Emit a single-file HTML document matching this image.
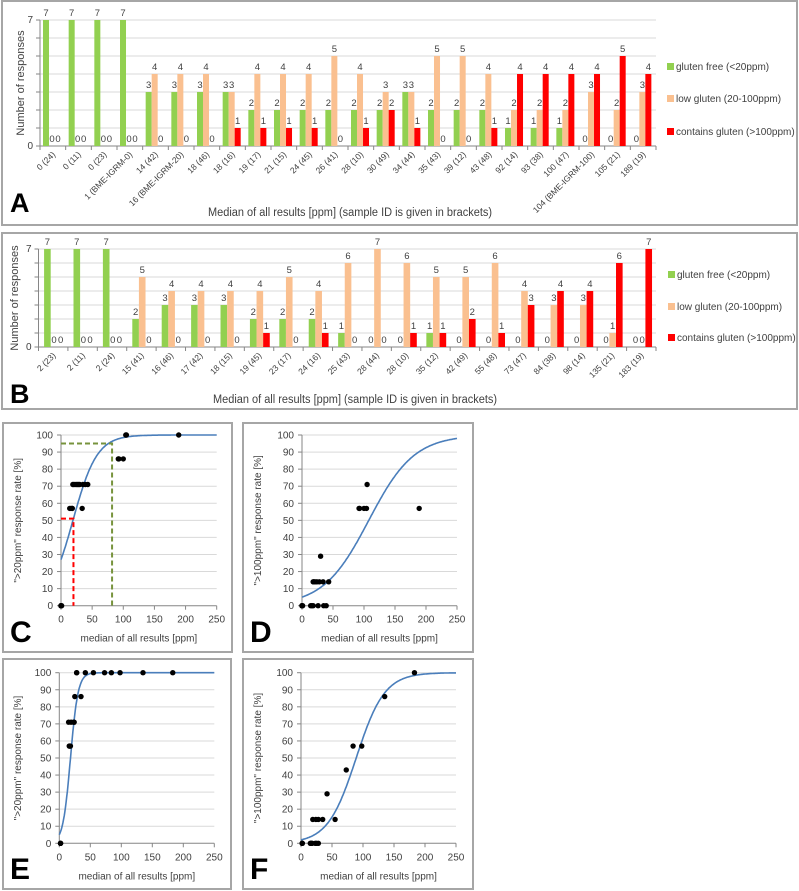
<!DOCTYPE html>
<html><head><meta charset="utf-8">
<style>
html,body{margin:0;padding:0;background:#fff;}
svg{display:block;font-family:"Liberation Sans",Arial,sans-serif;}
</style></head>
<body>
<svg id="fig" width="799" height="891" viewBox="0 0 799 891" xmlns="http://www.w3.org/2000/svg"></svg>
<script>
// ---- Panel A data ----
const catsA = ["0 (24)","0 (11)","0 (23)","1 (BME-IGRM-0)","14 (42)","16 (BME-IGRM-20)","18 (46)","18 (16)","19 (17)","21 (15)","24 (45)","26 (41)","28 (10)","30 (49)","34 (44)","35 (43)","39 (12)","43 (48)","92 (14)","93 (38)","100 (47)","104 (BME-IGRM-100)","105 (21)","189 (19)"];
const greenA = [7,7,7,7,3,3,3,3,2,2,2,2,2,2,3,2,2,2,1,1,1,0,0,0];
const orangeA = [0,0,0,0,4,4,4,3,4,4,4,5,4,3,3,5,5,4,2,2,2,3,2,3];
const redA = [0,0,0,0,0,0,0,1,1,1,1,0,1,2,1,0,0,1,4,4,4,4,5,4];
// ---- Panel B data ----
const catsB = ["2 (23)","2 (11)","2 (24)","15 (41)","16 (46)","17 (42)","18 (15)","19 (45)","23 (17)","24 (16)","25 (43)","28 (44)","28 (10)","35 (12)","42 (49)","55 (48)","73 (47)","84 (38)","98 (14)","135 (21)","183 (19)"];
const greenB = [7,7,7,2,3,3,3,2,2,2,1,0,0,1,0,0,0,0,0,0,0];
const orangeB = [0,0,0,5,4,4,4,4,5,4,6,7,6,5,5,6,4,3,3,1,0];
const redB = [0,0,0,0,0,0,0,1,0,1,0,0,1,1,2,1,3,4,4,6,7];
// ---- Scatter data (C-F) ----
const xC = [0,0,0,1,14,16,18,18,19,21,24,26,28,30,34,35,39,43,92,93,100,104,105,189];
const yC = [0,0,0,0,57,57,57,57,71,71,71,71,71,71,57,71,71,71,86,86,86,100,100,100];
const xD = [0,0,0,1,14,16,18,18,19,21,24,26,28,30,34,35,39,43,92,93,100,104,105,189];
const yD = [0,0,0,0,0,0,0,14,14,14,14,0,14,29,14,0,0,14,57,57,57,57,71,57];
const xE = [2,2,2,15,16,17,18,19,23,24,25,28,28,35,42,55,73,84,98,135,183];
const yE = [0,0,0,71,57,57,57,71,71,71,86,100,100,86,100,100,100,100,100,100,100];
const xF = [2,2,2,15,16,17,18,19,23,24,25,28,28,35,42,55,73,84,98,135,183];
const yF = [0,0,0,0,0,0,0,14,0,14,0,0,14,14,29,14,43,57,57,86,100];
// logistic fit params [intercept, slope]
const fitC = [-0.995,0.0518];
const fitD = [-2.94,0.0273];
const fitE = [-2.94,0.163];
const fitF = [-3.89,0.0437];
const yTicksPct = [0,10,20,30,40,50,60,70,80,90,100];
const xTicksPpm = [0,50,100,150,200,250];

const NS="http://www.w3.org/2000/svg";
const svg=document.getElementById('fig');
function el(tag,attrs,parent,text){const e=document.createElementNS(NS,tag);for(const k in attrs)e.setAttribute(k,attrs[k]);if(text!==undefined)e.textContent=text;(parent||svg).appendChild(e);return e;}

function barPanel(o){
  const g=el('g',{});
  
  
  const box=el('rect',{x:o.box[0],y:o.box[1],width:o.box[2],height:o.box[3],fill:'#fff',stroke:'#a6a6a6','stroke-width':2},g);
  
  
  const n=o.cats.length, w=(o.x1-o.x0)/n, unit=(o.y0-o.y7)/7;
  const ys=v=>o.y0-v*unit;
  for(let v=1;v<=7;v++){const l=el('line',{x1:o.x0,x2:o.x1,y1:ys(v),y2:ys(v),stroke:'#d9d9d9','stroke-width':1},g);
    
    }
  el('line',{x1:o.x0,x2:o.x0,y1:o.y7,y2:o.y0,stroke:'#868686'},g);
  el('line',{x1:o.x0,x2:o.x1,y1:o.y0,y2:o.y0,stroke:'#868686'},g);
  for(let v=0;v<=7;v++) el('line',{x1:o.x0-4,x2:o.x0,y1:ys(v),y2:ys(v),stroke:'#868686'},g);
  for(let i=0;i<=n;i++) el('line',{x1:o.x0+i*w,x2:o.x0+i*w,y1:o.y0,y2:o.y0+4,stroke:'#868686'},g);
  let t=el('text',{x:o.x0-7,y:ys(7)+3,'font-size':10,fill:'#404040','text-anchor':'end'},g,'7');
  
  t=el('text',{x:o.x0-7,y:ys(0)+3,'font-size':10,fill:'#404040','text-anchor':'end'},g,'0');
  
  const yt=el('text',{transform:`translate(${o.ytx},${o.yty}) rotate(-90)`,'font-size':11,fill:'#404040','text-anchor':'middle'},g,'Number of responses');
  
  const series=[[o.green,'#92d050','gluten-free'],[o.orange,'#fac090','low-gluten'],[o.red,'#ff0000','contains-gluten']];
  const bw=w*o.bwf, off=w*o.off;
  for(let i=0;i<n;i++){
    series.forEach((s,k)=>{
      const v=s[0][i], x=o.x0+i*w+off+k*bw;
      if(v>0){const r=el('rect',{x:x,y:ys(v),width:bw,height:v*unit,fill:s[1]},g);
        
        }
      const lb=el('text',{x:x+bw/2,y:ys(v)-4,'font-size':9.5,fill:'#404040','text-anchor':'middle'},g,String(v));
      
      
    });
    const cx=o.x0+i*w+w/2+3, cy=o.y0+9;
    const cl=el('text',{transform:`translate(${cx},${cy}) rotate(-45)`,'font-size':o.cfs,fill:'#404040','text-anchor':'end'},g,o.cats[i]);
    
    
  }
  const xt=el('text',{x:o.xtx,y:o.xty,'font-size':11.5,fill:'#404040','text-anchor':'middle',textLength:284,lengthAdjust:'spacingAndGlyphs'},g,'Median of all results [ppm] (sample ID is given in brackets)');
  
  const pl=el('text',{x:o.box[0]+8,y:o.lety,'font-size':27,'font-weight':'bold',fill:'#000'},g,o.letter);
  
  const legs=[['gluten free (<20ppm)','#92d050'],['low gluten (20-100ppm)','#fac090'],['contains gluten (>100ppm)','#ff0000']];
  legs.forEach((L,k)=>{
    const y=o.legy[k];
    const lg=el('g',{},g);
    
    
    el('rect',{x:o.legx,y:y-7,width:7,height:7,fill:L[1]},lg);
    el('text',{x:o.legx+9,y:y,'font-size':10,fill:'#404040'},lg,L[0]);
  });
}

barPanel({name:'panel-a',box:[2,1,795,224],cats:catsA,green:greenA,orange:orangeA,red:redA,x0:40,x1:656,y7:20,y0:146,
  bwf:0.234,off:0.117,cfs:8.5,ytx:24,yty:83,xtx:350,xty:216,letter:'A',lety:212,legx:667,legy:70,legy:[70,102,135]});
barPanel({name:'panel-b',box:[2,233,795,176],cats:catsB,green:greenB,orange:orangeB,red:redB,x0:38.5,x1:656,y7:249,y0:347,
  bwf:0.225,off:0.19,cfs:8.5,ytx:18,yty:298,xtx:355,xty:403,letter:'B',lety:403,legx:668,legy:[278,310,341]});

function scatterPanel(o){
  const g=el('g',{});
  
  
  const box=el('rect',{x:o.box[0],y:o.box[1],width:o.box[2],height:o.box[3],fill:'#fff',stroke:'#a6a6a6','stroke-width':2},g);
  
  const xs=v=>o.x0+(o.x1-o.x0)*v/250, ys=v=>o.y0-(o.y0-o.y100)*v/100;
  yTicksPct.forEach(v=>{
    if(v>0){const l=el('line',{x1:xs(0),x2:xs(250),y1:ys(v),y2:ys(v),stroke:'#d9d9d9'},g);
      }
    el('line',{x1:xs(0)-4,x2:xs(0),y1:ys(v),y2:ys(v),stroke:'#868686'},g);
    const t=el('text',{x:xs(0)-8,y:ys(v)+3.5,'font-size':10,fill:'#404040','text-anchor':'end'},g,String(v));
    
  });
  el('line',{x1:xs(0),x2:xs(0),y1:ys(100),y2:ys(0),stroke:'#868686'},g);
  el('line',{x1:xs(0),x2:xs(250),y1:ys(0),y2:ys(0),stroke:'#868686'},g);
  xTicksPpm.forEach(v=>{
    el('line',{x1:xs(v),x2:xs(v),y1:ys(0),y2:ys(0)+4,stroke:'#868686'},g);
    const t=el('text',{x:xs(v),y:ys(0)+17,'font-size':10,fill:'#404040','text-anchor':'middle'},g,String(v));
    
  });
  let d='';
  for(let x=0;x<=250;x+=1){const p=100/(1+Math.exp(-(o.fit[0]+o.fit[1]*x)));d+=(x?'L':'M')+xs(x).toFixed(1)+','+ys(p).toFixed(1);}
  const c=el('path',{d:d,fill:'none',stroke:'#4a7ebb','stroke-width':1.6},g);
  
  if(o.guides){o.guides.forEach(G=>{
    const p=el('path',{d:`M${xs(0)},${ys(G[1])}H${xs(G[0])}V${ys(0)}`,fill:'none',stroke:G[2],'stroke-width':2,'stroke-dasharray':'5,3'},g);
    
  });}
  o.xd.forEach((xv,i)=>{
    const pt=el('circle',{cx:xs(xv),cy:ys(o.yd[i]),r:2.7,fill:'#000'},g);
    
  });
  const yt=el('text',{transform:`translate(${o.box[0]+18},${(ys(0)+ys(100))/2}) rotate(-90)`,'font-size':10,fill:'#404040','text-anchor':'middle'},g,o.ytitle);
  
  const xt=el('text',{x:(xs(0)+xs(250))/2,y:ys(0)+36,'font-size':10,fill:'#404040','text-anchor':'middle'},g,'median of all results [ppm]');
  
  const pl=el('text',{x:o.box[0]+7,y:o.box[1]+o.box[3]-10,'font-size':30,'font-weight':'bold',fill:'#000'},g,o.letter);
  
}
scatterPanel({name:'panel-c',box:[3,423,229,229],x0:61,x1:216.7,y100:435,y0:605.7,xd:xC,yd:yC,fit:fitC,ytitle:'">20ppm" response rate [%]',letter:'C',
  guides:[[20,51,'#ff0000'],[82,95,'#77933c']]});
scatterPanel({name:'panel-d',box:[243,423,230,229],x0:302,x1:457,y100:435,y0:605.7,xd:xD,yd:yD,fit:fitD,ytitle:'">100ppm" response rate [%]',letter:'D'});
scatterPanel({name:'panel-e',box:[3,659,228,230],x0:59.3,x1:214.3,y100:672.7,y0:843.3,xd:xE,yd:yE,fit:fitE,ytitle:'">20ppm" response rate [%]',letter:'E'});
scatterPanel({name:'panel-f',box:[243,659,230,230],x0:301,x1:456,y100:672.7,y0:843.3,xd:xF,yd:yF,fit:fitF,ytitle:'">100ppm" response rate [%]',letter:'F'});
</script>
</body></html>
